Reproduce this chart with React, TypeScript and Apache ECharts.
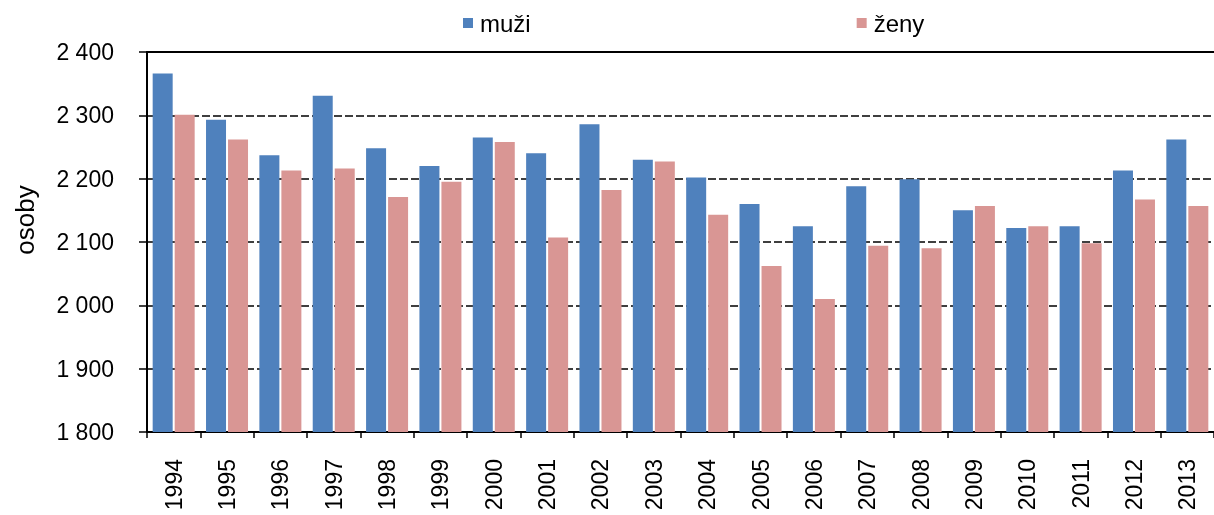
import React, { useEffect, useRef } from "react";
import * as echarts from "echarts";

const categories = ["1994","1995","1996","1997","1998","1999","2000","2001","2002","2003","2004","2005","2006","2007","2008","2009","2010","2011","2012","2013"];
const muzi = [2366,2293,2237,2331,2248,2220,2265,2240,2286,2230,2202,2160,2125,2188,2199,2150,2122,2125,2213,2262];
const zeny = [2301,2262,2213,2216,2171,2195,2258,2107,2182,2227,2143,2062,2010,2094,2090,2157,2125,2098,2167,2157];
const seriesNames = ["muži", "ženy"];
const yAxisName = "osoby";

const FONT = "'Liberation Sans', Arial, sans-serif";

export default function App() {
  const ref = useRef<HTMLDivElement>(null);
  useEffect(() => {
    if (!ref.current) return;
    const chart = echarts.init(ref.current, null, { renderer: "svg" });
    chart.setOption({
      animation: false,
      textStyle: { fontFamily: FONT },
      legend: {
        data: seriesNames,
        left: 458,
        top: 6,
        itemWidth: 10,
        itemHeight: 10,
        itemGap: 326,
        icon: "rect",
        textStyle: { fontSize: 24, color: "#000", fontFamily: FONT, padding: [0, 0, 0, 2] },
      },
      grid: { left: 147, top: 52, width: 1070, bottom: 83 },
      graphic: [
        {
          type: "text",
          x: 25,
          y: 220,
          rotation: Math.PI / 2,
          style: {
            text: yAxisName,
            fontSize: 26,
            fontFamily: FONT,
            fill: "#000",
            align: "center",
            verticalAlign: "middle",
          },
        },
      ],
      xAxis: [
        {
          type: "category",
          data: categories,
          axisLine: { lineStyle: { color: "#000", width: 2 } },
          axisTick: { show: true, length: 6, lineStyle: { color: "#000", width: 1.5 } },
          axisLabel: { rotate: 90, fontSize: 23, color: "#000", margin: 27, fontFamily: FONT },
        },
        {
          type: "category",
          position: "top",
          data: categories,
          axisLine: { show: true, lineStyle: { color: "#000", width: 2 } },
          axisTick: { show: false },
          axisLabel: { show: false },
        },
      ],
      yAxis: {
        type: "value",
        min: 1800,
        max: 2400,
        interval: 100,
        axisLine: { show: true, lineStyle: { color: "#000", width: 2 } },
        axisTick: { show: true, length: 8, lineStyle: { color: "#000", width: 1.5 } },
        axisLabel: {
          fontSize: 23,
          color: "#000",
          margin: 33,
          fontFamily: FONT,
          formatter: (v: number) => {
            const s = String(v);
            return s.length > 3 ? s.slice(0, s.length - 3) + " " + s.slice(s.length - 3) : s;
          },
        },
        splitLine: { show: true, lineStyle: { color: "#000", width: 1.6, type: [8, 3] } },
      },
      series: [
        {
          name: seriesNames[0],
          type: "bar",
          data: muzi,
          barWidth: 20,
          barGap: "10%",
          itemStyle: { color: "#4F81BD" },
        },
        {
          name: seriesNames[1],
          type: "bar",
          data: zeny,
          barWidth: 20,
          barGap: "10%",
          itemStyle: { color: "#D99694" },
        },
      ],
    });
    return () => chart.dispose();
  }, []);
  return <div ref={ref} style={{ position: "fixed", left: 0, top: 0, width: 1214, height: 515 }} />;
}
